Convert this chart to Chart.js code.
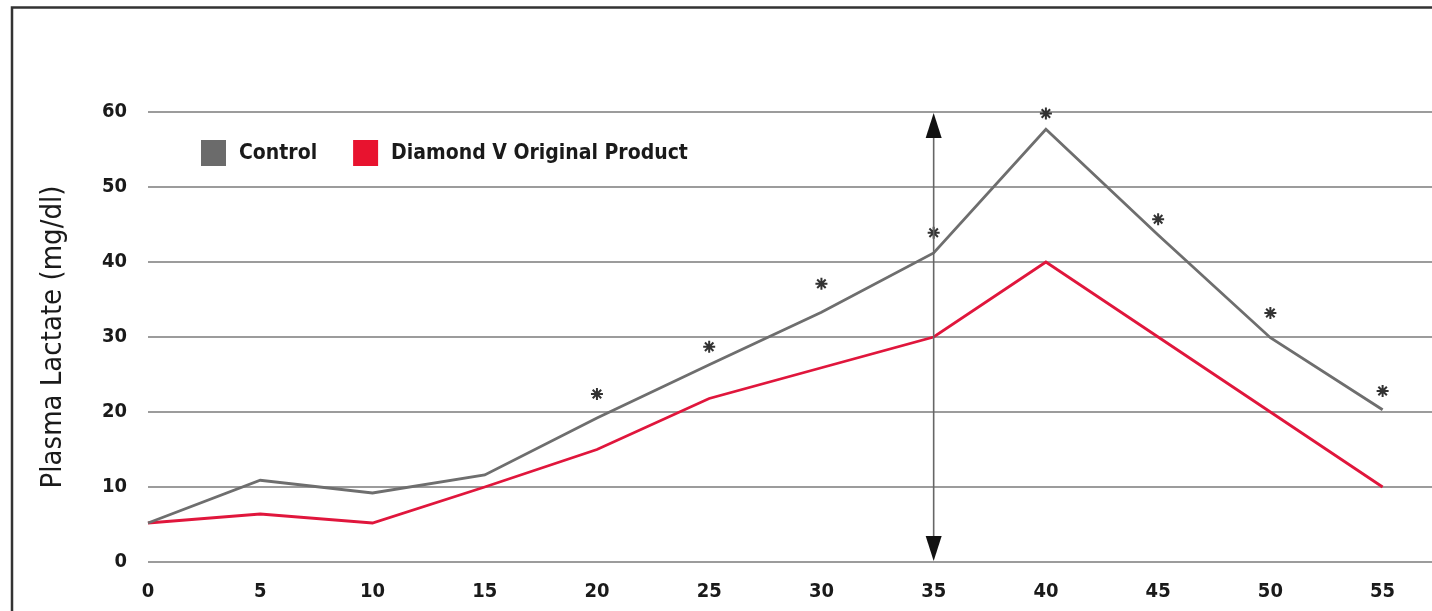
<!DOCTYPE html>
<html>
<head>
<meta charset="utf-8">
<script src="https://cdn.jsdelivr.net/npm/chart.js@4"></script>
<style>
  html, body { margin: 0; padding: 0; background: #fff; overflow: hidden; }
  #wrap { width: 1432px; height: 611px; }
</style>
</head>
<body>
<div id="wrap"><canvas id="lactateChart"></canvas></div>
<script>
// minutes
const timePoints = [0, 5, 10, 15, 20, 25, 30, 35, 40, 45, 50, 55];
// plasma lactate, mg/dl
const controlValues = [5.2, 10.9, 9.2, 11.6, 19.2, 26.3, 33.3, 41.2, 57.7, 43.6, 29.9, 20.3];
const productValues = [5.2, 6.4, 5.2, 10.0, 15.0, 21.8, 25.9, 30.0, 40.0, 30.0, 20.0, 10.0];
// significance markers (*) above control line
const starTimes = [20, 25, 30, 35, 40, 45, 50, 55];
const starValues = [22.4, 28.7, 37.1, 43.9, 59.8, 45.7, 33.2, 22.8];
const yTicks = [0, 10, 20, 30, 40, 50, 60];
const arrowTime = 35;

const FONT = "'DejaVu Sans Condensed', 'DejaVu Sans', sans-serif";

const toPoints = (xs, ys) => xs.map((x, i) => ({ x: x, y: ys[i] }));

// frame lines, double arrow and legend drawn on top
const extras = {
  id: "extras",
  beforeDraw(chart) {
    const c = chart.ctx;
    c.save();
    c.strokeStyle = "#333";
    c.lineWidth = 2.5;
    c.beginPath();
    c.moveTo(12, 611);
    c.lineTo(12, 7.5);
    c.lineTo(1432, 7.5);
    c.stroke();
    c.restore();
  },
  afterDatasetsDraw(chart) {
    const c = chart.ctx;
    const xs = chart.scales.x, ys = chart.scales.y;
    const ax = xs.getPixelForValue(arrowTime);
    const top = ys.getPixelForValue(60);
    const bot = ys.getPixelForValue(0);
    c.save();
    c.strokeStyle = "#666";
    c.lineWidth = 1.6;
    c.beginPath();
    c.moveTo(ax, top + 20);
    c.lineTo(ax, bot - 20);
    c.stroke();
    c.fillStyle = "#111";
    c.beginPath();
    c.moveTo(ax, top + 1);
    c.lineTo(ax - 8, top + 26);
    c.lineTo(ax + 8, top + 26);
    c.closePath();
    c.fill();
    c.beginPath();
    c.moveTo(ax, bot - 1);
    c.lineTo(ax - 8, bot - 26);
    c.lineTo(ax + 8, bot - 26);
    c.closePath();
    c.fill();

    // legend
    const ca = chart.chartArea;
    let lx = ca.left + 53;
    const ly = ca.top + 28;
    c.font = "bold 21px " + FONT;
    c.textBaseline = "middle";
    c.textAlign = "left";
    chart.data.datasets.slice(0, 2).forEach((ds) => {
      c.fillStyle = ds.legendColor;
      c.fillRect(lx, ly, 25, 26);
      c.fillStyle = "#1a1a1a";
      c.fillText(ds.label, lx + 38, ly + 14);
      lx += 38 + c.measureText(ds.label).width + 36;
    });
    c.restore();
  }
};

const ctx = document.getElementById("lactateChart");
const chart = new Chart(ctx, {
  type: "line",
  data: {
    datasets: [
      {
        label: "Control",
        data: toPoints(timePoints, controlValues),
        borderColor: "#6e6e6e",
        legendColor: "#6b6b6b",
        borderWidth: 2.8,
        pointRadius: 0,
        tension: 0,
        clip: false
      },
      {
        label: "Diamond V Original Product",
        data: toPoints(timePoints, productValues),
        borderColor: "#e0163c",
        legendColor: "#e8132f",
        borderWidth: 2.8,
        pointRadius: 0,
        tension: 0,
        clip: false
      },
      {
        type: "scatter",
        label: "significant",
        data: toPoints(starTimes, starValues),
        pointStyle: "star",
        pointRadius: 6,
        borderColor: "#333",
        borderWidth: 2,
        showLine: false,
        clip: false
      }
    ]
  },
  options: {
    responsive: true,
    maintainAspectRatio: false,
    animation: false,
    layout: { autoPadding: false, padding: { left: 32, top: 112, right: 0, bottom: 0 } },
    plugins: {
      legend: { display: false },
      tooltip: { enabled: false }
    },
    scales: {
      x: {
        type: "linear",
        min: 0,
        max: 57.2,
        afterFit(scale) {
          scale.height = 49;
        },
        grid: { display: false, drawTicks: false },
        border: { display: false },
        ticks: {
          stepSize: 5,
          includeBounds: false,
          padding: 18,
          color: "#1a1a1a",
          font: { family: FONT, size: 20, weight: "bold" }
        }
      },
      y: {
        min: 0,
        max: 60,
        afterFit(scale) { scale.width = 116; },
        afterBuildTicks(scale) { scale.ticks = yTicks.map(v => ({ value: v })); },
        grid: { color: "#9c9c9c", lineWidth: 2, drawTicks: false },
        border: { display: false },
        ticks: {
          padding: 21,
          color: "#1a1a1a",
          font: { family: FONT, size: 20, weight: "bold" }
        },
        title: {
          display: true,
          text: "Plasma Lactate (mg/dl)",
          color: "#1a1a1a",
          font: { family: FONT, size: 29 }
        }
      }
    }
  },
  plugins: [extras]
});
</script>
</body>
</html>
